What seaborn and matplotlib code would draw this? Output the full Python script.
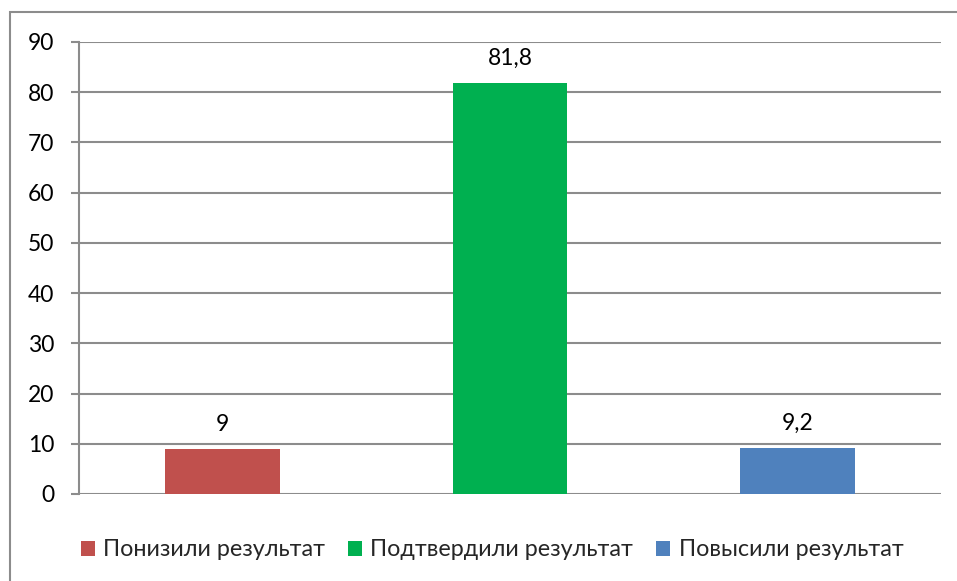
import matplotlib
matplotlib.use("Agg")
import matplotlib.pyplot as plt
import seaborn as sns
import pandas as pd
from matplotlib.patches import Patch, Rectangle

categories = ["Понизили результат", "Подтвердили результат", "Повысили результат"]
values = [9, 81.8, 9.2]
value_labels = ["9", "81,8", "9,2"]
colors = ["#C0504D", "#00B050", "#4F81BD"]
yticks = [0, 10, 20, 30, 40, 50, 60, 70, 80, 90]

sns.set_style("white")
plt.rcParams["font.family"] = ["Lato", "DejaVu Sans"]

df = pd.DataFrame({"cat": categories, "val": values})

fig = plt.figure(figsize=(9.57, 5.81), dpi=100)
ax = fig.add_axes([79/957, (581-494)/581, (941-79)/957, (494-42)/581])

sns.barplot(data=df, x="cat", y="val", hue="cat", palette=colors, width=0.4,
            legend=False, ax=ax, saturation=1, edgecolor="none")

ax.set_ylim(0, 90)
ax.set_xlim(-0.5, 2.5)
ax.set_yticks(yticks)
ax.set_xticks([])
ax.set_xlabel("")
ax.set_ylabel("")
grid_c = "#8C8C8C"
ax.yaxis.grid(True, color=grid_c, linewidth=1.5)
ax.set_axisbelow(True)
for s in ["top", "right", "bottom"]:
    ax.spines[s].set_visible(False)
ax.spines["left"].set_color(grid_c)
ax.spines["left"].set_linewidth(1.5)
ax.tick_params(axis="y", left=True, length=6, width=1.5, color=grid_c,
               labelsize=16.5, pad=12, labelcolor="black")

for cont, lab in zip(ax.containers, value_labels):
    ax.bar_label(cont, labels=[lab], padding=10, fontsize=16.5, color="black")

handles = [Patch(facecolor=c, edgecolor="none") for c in colors]
fig.legend(handles, categories, loc="center", bbox_to_anchor=(492/957, 1 - 550/581),
           ncol=3, frameon=False, fontsize=16.8, handlelength=0.6, handleheight=0.6,
           handletextpad=0.35, columnspacing=1.0)

fig.add_artist(Rectangle((10/957, -0.1), 1.2, 1 - 12/581 + 0.1, transform=fig.transFigure,
                         fill=False, edgecolor="#8C8C8C", linewidth=1.5))

fig.savefig("out.png", dpi=100)
